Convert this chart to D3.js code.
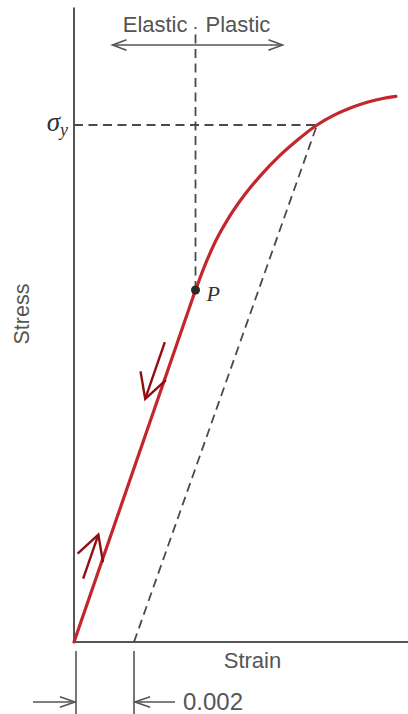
<!DOCTYPE html>
<html><head><meta charset="utf-8">
<script src="https://cdnjs.cloudflare.com/ajax/libs/d3/7.8.5/d3.min.js"></script>
<style>html,body{margin:0;padding:0;background:#fff;}svg{display:block;}</style>
</head><body>
<script>
// ---- data (strain, stress in MPa) ----
const strain = [0, 0.00405, 0.00440, 0.00473, 0.00513, 0.00570, 0.00627, 0.00683, 0.00743, 0.00810, 0.00867, 0.00923, 0.00980, 0.01033, 0.01073];
const stress = [0, 272.3, 293.5, 310.6, 327.2, 346.4, 362.2, 375.7, 388.0, 400.0, 407.6, 413.3, 417.8, 420.7, 422.1];
const proportionalIndex = 1;      // point P
const yieldIndex = 9;             // sigma_y (0.2% offset)
const offsetStrain = 0.002;
const axisLabels = ["Strain", "Stress"];
const regionLabels = ["Elastic", "Plastic"];
const offsetLabel = "0.002";
const loadArrows = [ {from: 46, to: 80}, {from: 229, to: 185} ]; // stress range of loading / unloading arrows

const W = 408, H = 714;
const x = d3.scaleLinear().domain([0, 0.011]).range([74, 404]);
const y = d3.scaleLinear().domain([0, 400]).range([642, 125]);

const svg = d3.select("body").append("svg").attr("width", W).attr("height", H);
const gray = "#555", red = "#c4262e", dark = "#8f0e12";
const font = "'Liberation Sans', Arial, sans-serif";

const pts = strain.map((s, i) => [s, stress[i]]);
const P = pts[proportionalIndex], Yp = pts[yieldIndex];

// axes
svg.append("line").attr("x1", x(0)).attr("x2", x(0)).attr("y1", y(0) + 1).attr("y2", y(491))
  .attr("stroke", gray).attr("stroke-width", 2);
svg.append("line").attr("x1", x(0)).attr("x2", W).attr("y1", y(0)).attr("y2", y(0))
  .attr("stroke", gray).attr("stroke-width", 2);

// dashed guides
const dash = "9,5.5", dcol = "#4a4a4a", dw = 1.8;
svg.append("line").attr("x1", x(0)).attr("x2", x(Yp[0])).attr("y1", y(Yp[1])).attr("y2", y(Yp[1]))
  .attr("stroke", dcol).attr("stroke-width", dw).attr("stroke-dasharray", dash);
svg.append("line").attr("x1", x(offsetStrain)).attr("x2", x(Yp[0])).attr("y1", y(0)).attr("y2", y(Yp[1]))
  .attr("stroke", dcol).attr("stroke-width", dw).attr("stroke-dasharray", dash);
svg.append("line").attr("x1", x(P[0])).attr("x2", x(P[0])).attr("y1", y(P[1])).attr("y2", 27)
  .attr("stroke", dcol).attr("stroke-width", dw).attr("stroke-dasharray", dash);

// curve: straight elastic part + smooth plastic part (clipped beyond P)
svg.append("defs").append("clipPath").attr("id", "plastic")
  .append("rect").attr("x", x(P[0])).attr("y", 0).attr("width", W).attr("height", H);
svg.append("path").attr("d", d3.line().x(d => x(d[0])).y(d => y(d[1]))(pts.slice(0, proportionalIndex + 1)))
  .attr("fill", "none").attr("stroke", red).attr("stroke-width", 3.2).attr("stroke-linecap", "round");
svg.append("path").attr("clip-path", "url(#plastic)")
  .attr("d", d3.line().x(d => x(d[0])).y(d => y(d[1])).curve(d3.curveMonotoneX)(pts))
  .attr("fill", "none").attr("stroke", red).attr("stroke-width", 3.2).attr("stroke-linecap", "round");

// P point
svg.append("circle").attr("cx", x(P[0])).attr("cy", y(P[1])).attr("r", 4.5).attr("fill", "#2a2a2a");
svg.append("text").attr("x", x(P[0]) + 11).attr("y", y(P[1]) + 11)
  .attr("font-family", "'Liberation Serif', 'DejaVu Serif', serif").attr("font-style", "italic")
  .attr("font-size", 22).attr("fill", "#333").text("P");

// sigma_y label
const sl = svg.append("text").attr("x", x(0) - 6).attr("y", y(Yp[1]) + 6).attr("text-anchor", "end")
  .attr("font-family", "'Liberation Serif', 'DejaVu Serif', serif").attr("font-style", "italic")
  .attr("font-size", 27).attr("fill", "#333");
sl.append("tspan").text("σ");
sl.append("tspan").attr("font-size", 18).attr("dy", 5).text("y");

// gray arrows helper
function chevron(tx, ty, ang, len, spread, color, sw) {
  const a1 = ang + spread, a2 = ang - spread;
  svg.append("path")
    .attr("d", `M${tx + len * Math.cos(a1)},${ty + len * Math.sin(a1)}L${tx},${ty}L${tx + len * Math.cos(a2)},${ty + len * Math.sin(a2)}`)
    .attr("fill", "none").attr("stroke", color).attr("stroke-width", sw).attr("stroke-linejoin", "miter");
}
// Elastic / Plastic
const xp = x(P[0]);
svg.append("text").attr("x", xp - 8).attr("y", 32).attr("text-anchor", "end")
  .attr("font-family", font).attr("font-size", 22).attr("fill", gray).text(regionLabels[0]);
svg.append("text").attr("x", xp + 10).attr("y", 32).attr("text-anchor", "start")
  .attr("font-family", font).attr("font-size", 22).attr("fill", gray).text(regionLabels[1]);
svg.append("line").attr("x1", xp - 83).attr("x2", xp + 87).attr("y1", 45).attr("y2", 45)
  .attr("stroke", gray).attr("stroke-width", 1.6);
chevron(xp - 83, 45, 0, 15, 0.36, gray, 1.6);
chevron(xp + 87, 45, Math.PI, 15, 0.36, gray, 1.6);

// axis titles
svg.append("text").attr("x", 252.5).attr("y", 668).attr("text-anchor", "middle")
  .attr("font-family", font).attr("font-size", 22).attr("fill", gray).text(axisLabels[0]);
svg.append("text").attr("transform", "translate(29,314) rotate(-90)").attr("text-anchor", "middle")
  .attr("font-family", font).attr("font-size", 21.5).attr("fill", gray).text(axisLabels[1]);

// 0.002 offset dimension
[0, offsetStrain].forEach((s, i) => {
  const xx = x(s) + (i === 0 ? 2 : 0);
  svg.append("line").attr("x1", xx).attr("x2", xx).attr("y1", 651).attr("y2", H)
    .attr("stroke", gray).attr("stroke-width", 1.6);
});
svg.append("line").attr("x1", 33).attr("x2", x(0) + 1).attr("y1", 702).attr("y2", 702).attr("stroke", gray).attr("stroke-width", 1.6);
chevron(x(0) + 1, 702, Math.PI, 16, 0.33, gray, 1.6);
svg.append("line").attr("x1", x(offsetStrain) + 1).attr("x2", x(offsetStrain) + 41).attr("y1", 702).attr("y2", 702).attr("stroke", gray).attr("stroke-width", 1.6);
chevron(x(offsetStrain) + 1, 702, 0, 16, 0.33, gray, 1.6);
svg.append("text").attr("x", x(offsetStrain) + 49).attr("y", 710)
  .attr("font-family", font).attr("font-size", 24).attr("fill", gray).text(offsetLabel);

// loading / unloading arrows alongside elastic line
const E = P[1] / P[0];
const dx = x(P[0]) - x(0), dy = y(P[1]) - y(0);
const L = Math.hypot(dx, dy);
const nx = dy / L, ny = -dx / L; // left-side normal
loadArrows.forEach(a => {
  const off = 12;
  const x1 = x(a.from / E) + nx * off, y1 = y(a.from) + ny * off;
  const x2 = x(a.to / E) + nx * off, y2 = y(a.to) + ny * off;
  svg.append("line").attr("x1", x1).attr("y1", y1).attr("x2", x2).attr("y2", y2)
    .attr("stroke", dark).attr("stroke-width", 2.4);
  const back = Math.atan2(y1 - y2, x1 - x2);
  chevron(x2, y2, back, 28, 0.5, dark, 2.4);
});
</script>
</body></html>
